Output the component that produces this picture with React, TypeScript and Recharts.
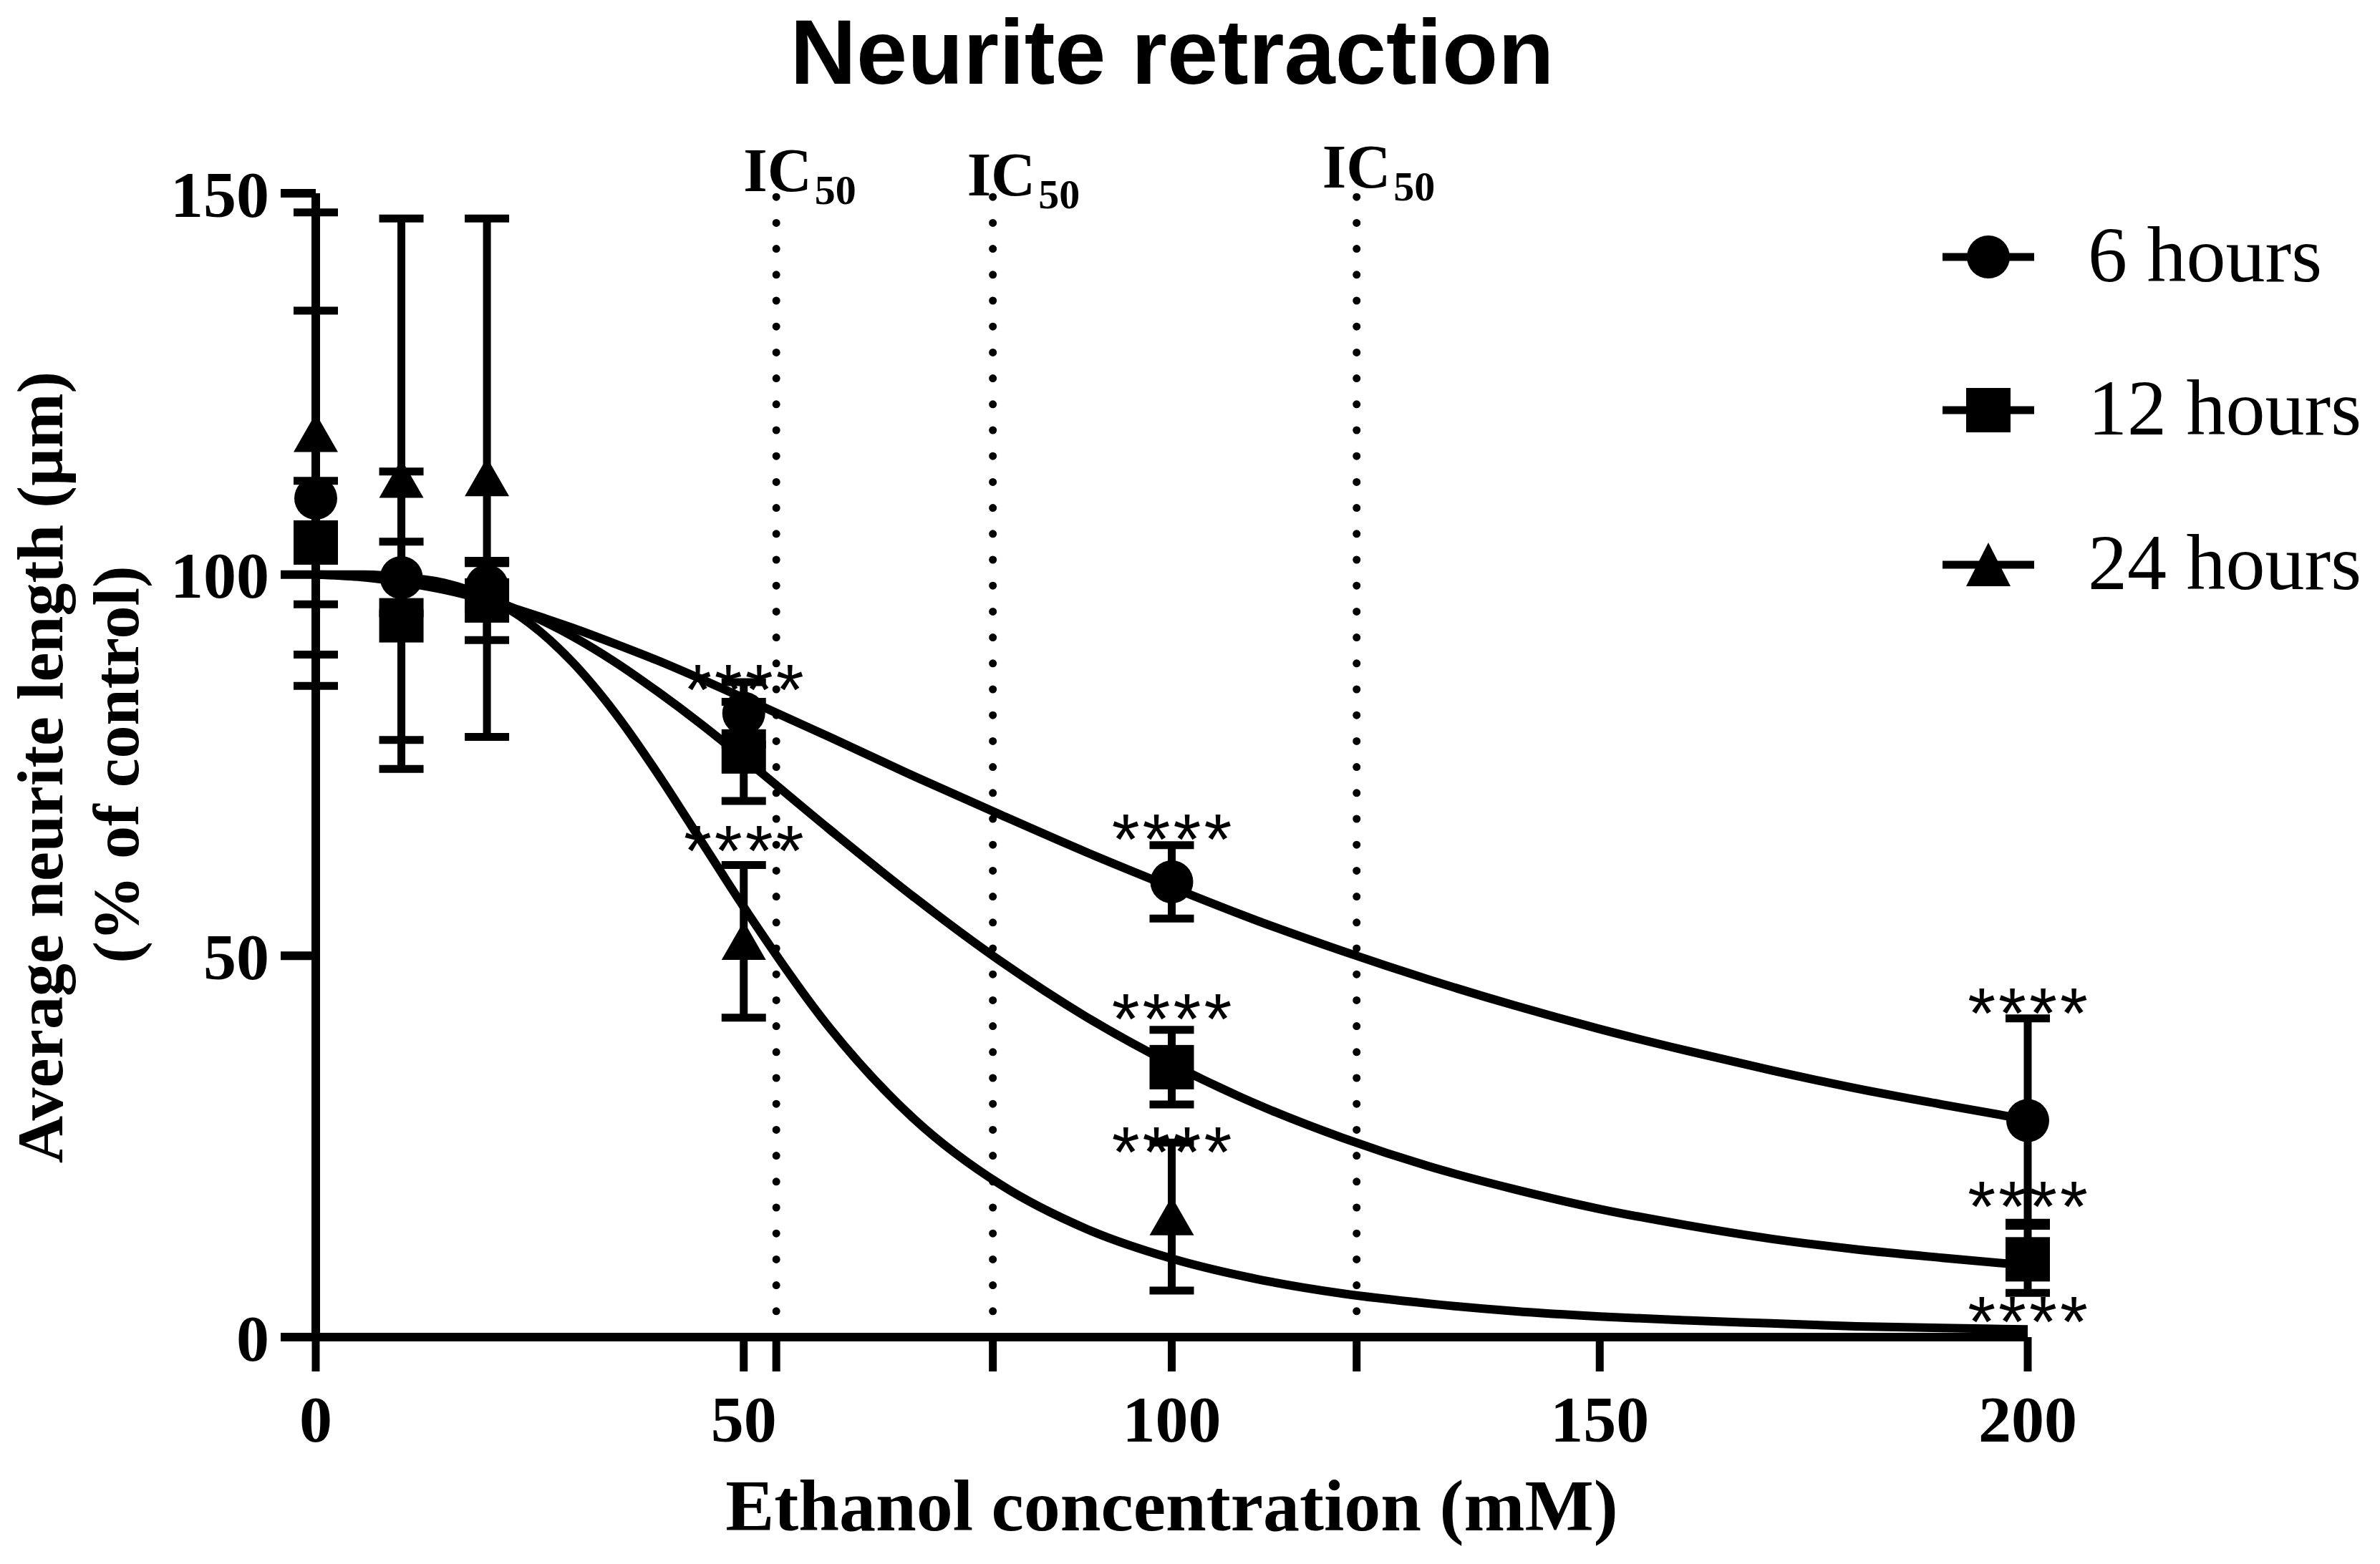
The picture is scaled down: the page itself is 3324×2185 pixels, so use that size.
import React from 'react';
import { ComposedChart, Line, Scatter, XAxis, YAxis, ErrorBar, ReferenceLine } from 'recharts';

// ---------- data ----------
const doses = [0, 10, 20, 50, 100, 200];
const mean6h = [110, 99.6, 98.5, 81.8, 59.7, 28.4];
const sd6h = [24.6, 4.7, 3, 4.1, 4.8, 13.4];
const mean12h = [104.2, 94, 96.6, 76.8, 35.4, 10.2];
const sd12h = [8.1, 19.5, 5.2, 6.5, 4.9, 4.4];
const mean24h = [118.5, 112.5, 112.7, 51.9, 15.8, -4];
const sd24h = [29, 34.2, 34, 10, 9.7, 0];

// fitted curves
const curveX = [0, 5, 10, 15, 20, 25, 30, 35, 40, 45, 50, 60, 70, 80, 90, 100, 110, 120, 130, 140, 150, 160, 170, 180, 190, 200];
const fit6h = [100, 99.7, 99.0, 98.0, 96.6, 94.9, 93.0, 90.9, 88.7, 86.3, 83.8, 78.7, 73.5, 68.5, 63.6, 59.0, 54.6, 50.6, 46.9, 43.5, 40.4, 37.6, 35.0, 32.6, 30.5, 28.5];
const fit12h = [100, 99.9, 99.4, 98.5, 96.9, 94.7, 91.9, 88.5, 84.6, 80.4, 75.9, 66.6, 57.6, 49.3, 42.0, 35.8, 30.5, 26.1, 22.4, 19.4, 16.8, 14.7, 12.9, 11.5, 10.4, 9.4];
const fit24h = [100, 100, 99.7, 98.9, 97.0, 93.6, 88.5, 81.8, 73.8, 65.1, 56.4, 40.6, 28.5, 20.0, 14.2, 10.3, 7.6, 5.7, 4.4, 3.4, 2.7, 2.2, 1.8, 1.4, 1.2, 1.0];

const ic50Values = [53.8, 79.1, 121.6];
const xTicks = [0, 50, 100, 150, 200];
const yTicks = [0, 50, 100, 150];

const starX = [50, 50, 100, 100, 100, 200, 200, 200];
const starY = [87.1, 66.0, 67.5, 43.9, 26.5, 44.7, 19.3, 4.2];
const starText = '****';

const seriesNames = ['6 hours', '12 hours', '24 hours'];
const titleText = 'Neurite retraction';
const xTitle = 'Ethanol concentration (mM)';
const yTitle1 = 'Average neurite length (µm)';
const yTitle2 = '(% of control)';

// ---------- build tables ----------
const curveData = curveX.map((x, i) => ({ x, c6: fit6h[i], c12: fit12h[i], c24: fit24h[i] }));
const pts = (means: number[], sds: number[]) => doses.map((x, i) => ({ x, y: means[i], err: sds[i] }));
const data6 = pts(mean6h, sd6h);
const data12 = pts(mean12h, sd12h);
const data24 = pts(mean24h, sd24h);
const starData = starX.map((x, i) => ({ x, y: starY[i] }));

const W = 3324;
const H = 2185;
const SERIF = '"Liberation Serif", "Times New Roman", serif';
const SANS = '"Liberation Sans", Arial, sans-serif';

const CircleShape = (p: any) => <circle cx={p.cx} cy={p.cy} r={30} fill="#000" />;
const SquareShape = (p: any) => <rect x={p.cx - 31} y={p.cy - 31} width={62} height={62} fill="#000" />;
const TriangleShape = (p: any) => (
  <polygon points={`${p.cx},${p.cy - 28} ${p.cx - 31},${p.cy + 26} ${p.cx + 31},${p.cy + 26}`} fill="#000" />
);
const STAR_FS = 100;
const STAR_LS = 4;
const StarShape = (p: any) => (
  <text x={p.cx + STAR_LS / 2} y={p.cy + STAR_FS * 0.58} textAnchor="middle" fontFamily={SANS} fontSize={STAR_FS} letterSpacing={STAR_LS} fill="#000">
    {starText}
  </text>
);

const icOffsets = [
  { dx: -46, dy: 0 },
  { dx: -36, dy: 6 },
  { dx: -48, dy: -5 },
];

const makeIcLabel = (i: number) => (props: any) => {
  const vb = props.viewBox || {};
  const x = vb.x + icOffsets[i].dx;
  const y = vb.y - 3 + icOffsets[i].dy;
  return (
    <text x={x} y={y} fontFamily={SERIF} fontWeight={700} fontSize={86} fill="#000">
      IC
      <tspan dy={18} fontSize={58} dx={4}>50</tspan>
    </text>
  );
};

const XTitle = (props: any) => {
  const vb = props.viewBox || {};
  return (
    <text x={vb.x + vb.width / 2} y={vb.y + 270} textAnchor="middle" fontFamily={SERIF} fontWeight={700} fontSize={102} fill="#000">
      {xTitle}
    </text>
  );
};

const YTitle = () => (
  <g>
    <text x={87} y={1072} transform="rotate(-90 87 1072)" textAnchor="middle" fontFamily={SERIF} fontWeight={700} fontSize={92} fill="#000">
      {yTitle1}
    </text>
    <text x={193} y={1068} transform="rotate(-90 193 1068)" textAnchor="middle" fontFamily={SERIF} fontWeight={700} fontSize={92} fill="#000">
      {yTitle2}
    </text>
  </g>
);

const legendShapes = [
  (cx: number, cy: number) => <circle cx={cx} cy={cy} r={30} fill="#000" />,
  (cx: number, cy: number) => <rect x={cx - 31} y={cy - 31} width={62} height={62} fill="#000" />,
  (cx: number, cy: number) => <polygon points={`${cx},${cy - 31} ${cx - 31},${cy + 30} ${cx + 31},${cy + 30}`} fill="#000" />,
];
const legendRowY = [359, 573, 789];

export default function App() {
  const tickStyle = { fill: '#000', fontSize: 92, fontWeight: 700, fontFamily: SERIF };
  return (
    <div style={{ position: 'absolute', left: 0, top: 0, width: W, height: H, background: '#fff' }}>
      <ComposedChart width={W} height={H} data={curveData} margin={{ top: 270, right: 492, bottom: 0, left: 0 }}>
        <XAxis
          type="number"
          dataKey="x"
          domain={[0, 200]}
          ticks={[...xTicks, ...ic50Values].sort((a, b) => a - b)}
          interval={0}
          tickFormatter={(v: number) => (xTicks.includes(v) ? String(v) : '')}
          height={317}
          tickSize={48}
          tickMargin={33}
          axisLine={{ stroke: '#000', strokeWidth: 12 }}
          tickLine={{ stroke: '#000', strokeWidth: 11 }}
          tick={tickStyle}
          label={(p: any) => <XTitle {...p} />}
        />
        <YAxis
          type="number"
          dataKey="y"
          domain={[0, 150]}
          allowDataOverflow
          ticks={yTicks}
          interval={0}
          width={441}
          tickSize={49}
          tickMargin={16}
          axisLine={{ stroke: '#000', strokeWidth: 12 }}
          tickLine={{ stroke: '#000', strokeWidth: 12 }}
          tick={tickStyle}
          label={() => <YTitle />}
        />
        {ic50Values.map((v, i) => (
          <ReferenceLine
            key={'ic' + i}
            x={v}
            stroke="#000"
            strokeWidth={11}
            strokeDasharray="0 36.2"
            strokeLinecap="round"
            label={makeIcLabel(i)}
          />
        ))}
        <Line type="monotone" dataKey="c6" stroke="#000" strokeWidth={12} dot={false} activeDot={false} isAnimationActive={false} legendType="none" />
        <Line type="monotone" dataKey="c12" stroke="#000" strokeWidth={12} dot={false} activeDot={false} isAnimationActive={false} legendType="none" />
        <Line type="monotone" dataKey="c24" stroke="#000" strokeWidth={12} dot={false} activeDot={false} isAnimationActive={false} legendType="none" />
        <Scatter name={seriesNames[0]} data={data6} dataKey="y" shape={CircleShape} isAnimationActive={false}>
          <ErrorBar dataKey="err" direction="y" width={31} stroke="#000" strokeWidth={11} isAnimationActive={false} />
        </Scatter>
        <Scatter name={seriesNames[1]} data={data12} dataKey="y" shape={SquareShape} isAnimationActive={false}>
          <ErrorBar dataKey="err" direction="y" width={31} stroke="#000" strokeWidth={11} isAnimationActive={false} />
        </Scatter>
        <Scatter name={seriesNames[2]} data={data24} dataKey="y" shape={TriangleShape} isAnimationActive={false}>
          <ErrorBar dataKey="err" direction="y" width={31} stroke="#000" strokeWidth={11} isAnimationActive={false} />
        </Scatter>
        <Scatter name="significance" data={starData} dataKey="y" shape={StarShape} isAnimationActive={false} legendType="none" />
      </ComposedChart>
      <svg width={W} height={H} style={{ position: 'absolute', left: 0, top: 0, pointerEvents: 'none' }}>
        <text x={1637} y={117} textAnchor="middle" fontFamily={SANS} fontWeight={700} fontSize={128} fill="#000">
          {titleText}
        </text>
        {seriesNames.map((name, i) => (
          <g key={name}>
            <line x1={2713} x2={2841} y1={legendRowY[i]} y2={legendRowY[i]} stroke="#000" strokeWidth={11} />
            {legendShapes[i](2777, legendRowY[i])}
            <text x={2916} y={legendRowY[i] + 34} fontFamily={SERIF} fontSize={110} fill="#000">
              {name}
            </text>
          </g>
        ))}
      </svg>
    </div>
  );
}
